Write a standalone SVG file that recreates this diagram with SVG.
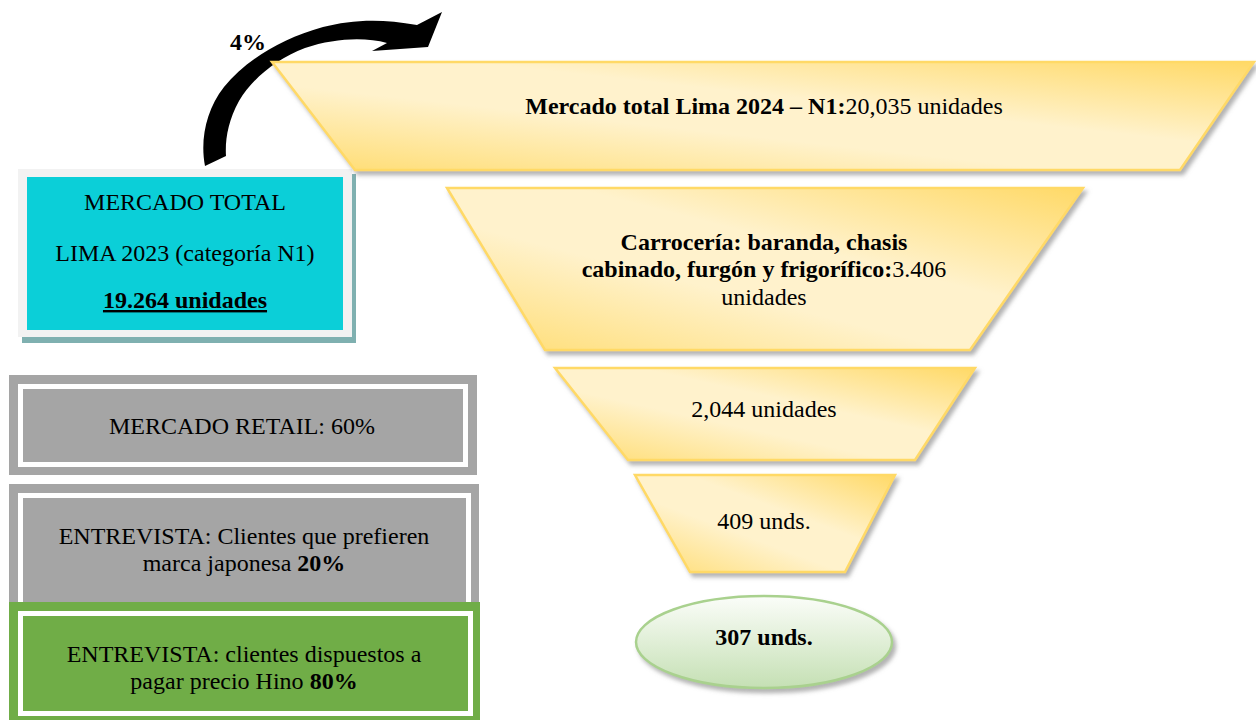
<svg xmlns="http://www.w3.org/2000/svg" width="1256" height="720" viewBox="0 0 1256 720">
<style>
text{font-family:"Liberation Serif","Times New Roman",serif;font-size:24px;fill:#000;text-anchor:middle}
.b{font-weight:bold}
.fun{fill:url(#gold);stroke:#ffd966;stroke-width:2.5;filter:url(#sh)}
.frame{fill:#a5a5a5}
.white{fill:none;stroke:#fff;stroke-width:5}
</style>
<defs>
<linearGradient id="gold" x1="1" y1="0" x2="0" y2="1">
<stop offset="0" stop-color="#ffd966"/>
<stop offset="0.4" stop-color="#fff2cc"/>
<stop offset="0.6" stop-color="#fff2cc"/>
<stop offset="1" stop-color="#ffdc70"/>
</linearGradient>
<linearGradient id="green" x1="0" y1="0" x2="0" y2="1">
<stop offset="0" stop-color="#fbfdf9"/>
<stop offset="1" stop-color="#c5e0b4"/>
</linearGradient>
<filter id="sh" x="-10%" y="-10%" width="120%" height="130%">
<feDropShadow dx="3" dy="4" stdDeviation="2" flood-color="#808080" flood-opacity="0.6"/>
</filter>
</defs>

<g id="connectors">
<path d="M205,166 C200,140 206,110 224,87 C245,61 280,39 323,27 C350,20 380,18 417,25 L442,12 L428,47 L372,51 L387,43 C365,37 335,38 305,48 C276,59 252,79 239,101 C228,121 225,140 226,156 Z" fill="#000"/>
<text class="b" x="248" y="50">4%</text>
</g>

<g id="total2023">
<rect x="22" y="174" width="334" height="169" fill="#7fb0b0"/>
<rect x="18" y="169" width="334" height="168" fill="#f2f2f2"/>
<rect x="27" y="177" width="316" height="153" fill="#0bcfd8"/>
<text x="185" y="210">MERCADO TOTAL</text>
<text x="185" y="261">LIMA 2023 (categoría N1)</text>
<text class="b" x="185" y="308" text-decoration="underline">19.264 unidades</text>
</g>

<g id="retail">
<rect class="frame" x="9" y="375" width="468" height="100"/>
<rect class="white" x="20.5" y="386.5" width="445" height="78"/>
<text x="242" y="434">MERCADO RETAIL: 60%</text>
</g>

<g id="japonesa">
<rect class="frame" x="9" y="484" width="470" height="118"/>
<rect class="white" x="20.5" y="495.5" width="448" height="110"/>
<text x="244" y="544">ENTREVISTA: Clientes que prefieren</text>
<text x="244" y="571">marca japonesa <tspan class="b">20%</tspan></text>
</g>

<g id="hino">
<rect x="9" y="602" width="471" height="118" fill="#70ad47"/>
<rect class="white" x="20.5" y="613.5" width="450" height="100"/>
<text x="244" y="662">ENTREVISTA: clientes dispuestos a</text>
<text x="244" y="689">pagar precio Hino <tspan class="b">80%</tspan></text>
</g>

<g id="n1-2024">
<polygon class="fun" points="272,62 1254,62 1180,170 355,170"/>
<text x="764" y="114"><tspan class="b">Mercado total Lima 2024 – N1:</tspan>20,035 unidades</text>
</g>

<g id="carroceria">
<polygon class="fun" points="447,188 1083,188 970,350 545,350"/>
<text class="b" x="764" y="250">Carrocería: baranda, chasis</text>
<text x="764" y="277"><tspan class="b">cabinado, furgón y frigorífico:</tspan>3.406</text>
<text x="764" y="305">unidades</text>
</g>

<g id="n2044">
<polygon class="fun" points="555,368 975,368 915,460 628,460"/>
<text x="764" y="417">2,044 unidades</text>
</g>

<g id="n409">
<polygon class="fun" points="635,475 895,475 845,572 690,572"/>
<text x="764" y="529">409 unds.</text>
</g>

<g id="n307">
<ellipse cx="764" cy="642" rx="128" ry="46" fill="url(#green)" stroke="#a9d18e" stroke-width="2.5" filter="url(#sh)"/>
<text class="b" x="764" y="645">307 unds.</text>
</g>
</svg>
